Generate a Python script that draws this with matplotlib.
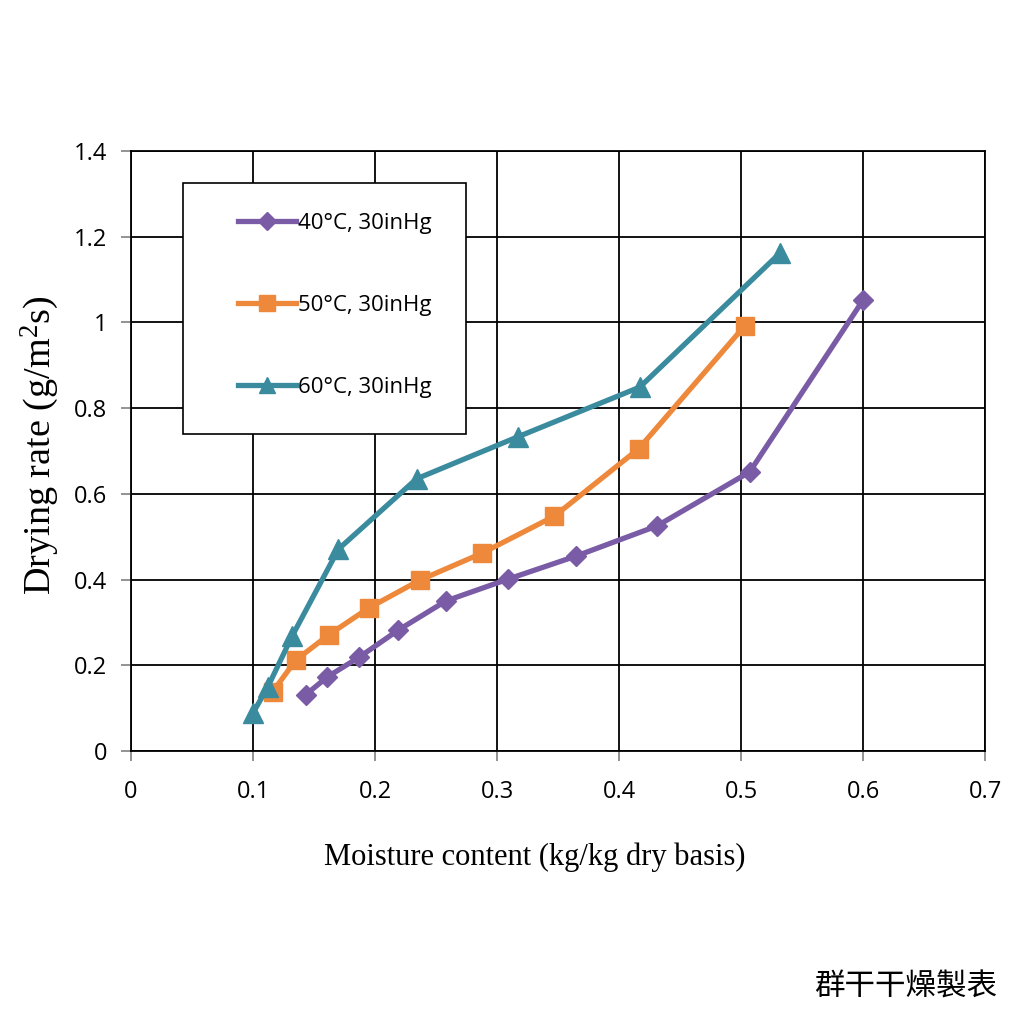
import matplotlib
matplotlib.use("Agg")
import matplotlib.pyplot as plt
from matplotlib.patches import Rectangle
from matplotlib.ticker import FuncFormatter, MultipleLocator

# moisture content (kg/kg dry basis) and drying rate (g/m2 s)
x_40 = [0.143, 0.161, 0.187, 0.219, 0.258, 0.309, 0.365, 0.431, 0.507, 0.600]
y_40 = [0.131, 0.173, 0.219, 0.282, 0.350, 0.401, 0.455, 0.525, 0.651, 1.052]

x_50 = [0.116, 0.135, 0.162, 0.195, 0.237, 0.288, 0.347, 0.416, 0.503]
y_50 = [0.138, 0.212, 0.271, 0.334, 0.399, 0.462, 0.548, 0.705, 0.992]

x_60 = [0.100, 0.112, 0.132, 0.170, 0.234, 0.317, 0.417, 0.532]
y_60 = [0.089, 0.149, 0.268, 0.471, 0.635, 0.733, 0.849, 1.162]

labels = ["40°C, 30inHg", "50°C, 30inHg", "60°C, 30inHg"]

PURPLE = "#7A5BA5"
ORANGE = "#EE893B"
TEAL = "#3B8B9F"

num_font = "Open Sans"

plt.rcParams["mathtext.fontset"] = "custom"
plt.rcParams["mathtext.rm"] = "Liberation Serif"
plt.rcParams["mathtext.it"] = "Liberation Serif"
plt.rcParams["mathtext.default"] = "rm"

fig = plt.figure(figsize=(10.24, 10.24), dpi=100)
ax = fig.add_axes([0.128, 0.2666, 0.834, 0.586])

ax.plot(x_40, y_40, color=PURPLE, lw=3.8, marker="D", ms=10.5, label=labels[0], zorder=5)
ax.plot(x_50, y_50, color=ORANGE, lw=3.8, marker="s", ms=13, label=labels[1], zorder=5)
ax.plot(x_60, y_60, color=TEAL, lw=3.8, marker="^", ms=14, label=labels[2], zorder=5)

ax.set_xlim(0, 0.7)
ax.set_ylim(0, 1.4)
ax.xaxis.set_major_locator(MultipleLocator(0.1))
ax.yaxis.set_major_locator(MultipleLocator(0.2))
fmt = FuncFormatter(lambda v, p: "%g" % round(v, 2))
ax.xaxis.set_major_formatter(fmt)
ax.yaxis.set_major_formatter(fmt)
ax.grid(True, color="black", lw=1.3)
ax.set_axisbelow(True)
for s in ax.spines.values():
    s.set_color("black")
    s.set_linewidth(1.3)
ax.tick_params(direction="out", length=7, width=1.3, color="#8a8a8a", labelsize=17)
ax.tick_params(axis="x", pad=14)
ax.tick_params(axis="y", pad=10)
for t in ax.get_xticklabels() + ax.get_yticklabels():
    t.set_fontfamily(num_font)

ax.set_ylabel("Drying rate (g/m$^2$s)", fontsize=27.5, family="Liberation Serif")
ax.yaxis.set_label_coords(-0.082, 0.51)
ax.set_xlabel("Moisture content (kg/kg dry basis)", fontsize=22,
              family="Liberation Serif")
ax.xaxis.set_label_coords(0.473, -0.153)

# legend box
box = Rectangle((0.061, 0.528), 0.331, 0.418, transform=ax.transAxes,
                facecolor="white", edgecolor="black", lw=1.2, zorder=6)
ax.add_patch(box)
leg = ax.legend(loc="upper left", bbox_to_anchor=(0.112, 0.915), frameon=False,
                borderpad=0, labelspacing=2.75, handlelength=2.6, handletextpad=0.1,
                prop={"family": num_font, "size": 16}, markerscale=0.85)
leg.set_zorder(7)

fig.text(0.884, 0.036, "群干干燥製表", fontsize=22, family=["Noto Sans CJK TC"],
         ha="center", va="center")

fig.savefig("out.png", dpi=100, facecolor="white")
